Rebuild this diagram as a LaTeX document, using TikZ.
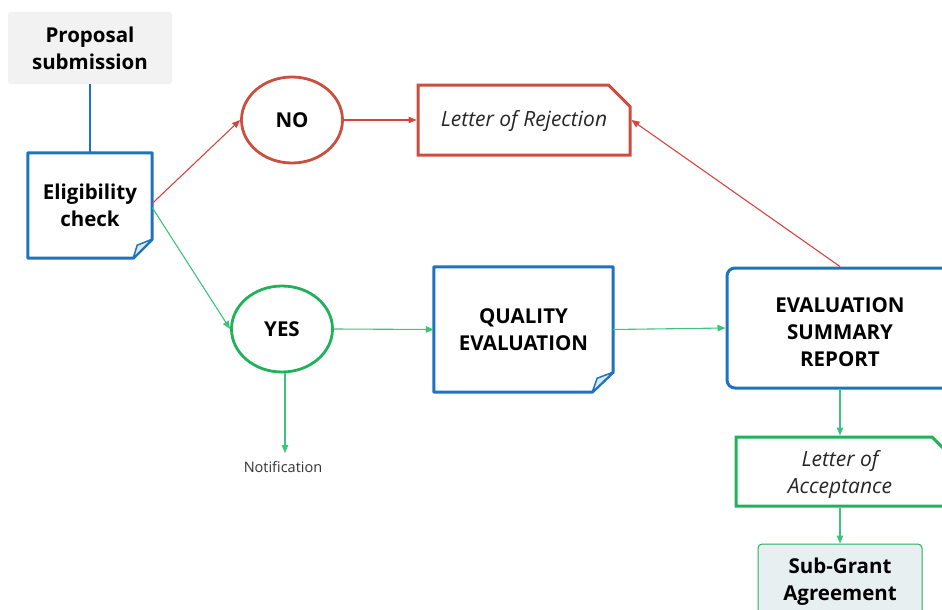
\documentclass[tikz,border=0pt]{standalone}
\usepackage{fontspec}
\setmainfont{Open Sans}
\usetikzlibrary{shapes.misc,shapes.geometric,arrows.meta,calc}
\definecolor{cblue}{HTML}{1E73BE}
\definecolor{cred}{HTML}{C9503E}
\definecolor{lred}{HTML}{D6453D}
\definecolor{cgreen}{HTML}{1FB25A}
\definecolor{lgreen}{HTML}{3CC47C}
\definecolor{cgray}{HTML}{F2F2F2}
\definecolor{sgafill}{HTML}{E8EFF1}
\definecolor{foldfill}{HTML}{DCE9F5}
\tikzset{
  big/.style={font=\fontsize{20.5}{27}\selectfont\bfseries, align=center, text=black},
  ital/.style={font=\fontsize{21}{27}\selectfont\itshape, align=center, text=black!85},
  graybox/.style={big, fill=cgray, rounded corners=3pt, inner sep=0pt},
  notebox/.style={big, inner sep=0pt},
  ovalred/.style={big, ellipse, draw=cred, line width=2.8pt, inner sep=0pt},
  ovalgreen/.style={big, ellipse, draw=cgreen, line width=2.8pt, inner sep=0pt},
  noteline/.style={draw=cblue, line width=3pt, line join=round},
  foldline/.style={draw=cblue, line width=1.5pt, fill=foldfill, line join=round},
  letterred/.style={ital, chamfered rectangle, chamfered rectangle corners=north east, chamfered rectangle xsep=11pt, chamfered rectangle ysep=11pt, draw=cred, line width=3pt, inner sep=0pt},
  lettergreen/.style={ital, chamfered rectangle, chamfered rectangle corners=north east, chamfered rectangle xsep=12pt, chamfered rectangle ysep=12pt, draw=cgreen, line width=3pt, inner sep=0pt},
  reportbox/.style={big, draw=cblue, line width=3pt, rounded corners=8pt, inner sep=0pt},
  sgabox/.style={big, draw=cgreen, line width=1pt, fill=sgafill, rounded corners=4pt, inner sep=0pt},
  small/.style={font=\fontsize{14.5}{16}\selectfont, text=black!80, inner sep=2pt},
  tipg/.style={-{Triangle[length=8pt,width=6.5pt]}},
  redarrow/.style={draw=lred, line width=1.1pt, tipg},
  greenarrow/.style={draw=lgreen, line width=1.1pt, tipg},
  blueline/.style={draw=cblue, line width=1.2pt}
}
\begin{document}
\begin{tikzpicture}[x=1pt,y=-1pt]
\useasboundingbox (0,0) rectangle (942,610);
\clip (0,0) rectangle (942,610);

% nodes
\node[graybox, minimum width=164pt, minimum height=72pt] (prop) at (90,48) {Proposal\\submission};
\node[notebox, minimum width=124pt, minimum height=105pt] (elig) at (90,205.5) {Eligibility\\check};
\node[ovalred, minimum width=101pt, minimum height=86pt] (no) at (292,120) {NO};
\node[letterred, minimum width=212pt, minimum height=70pt] (rej) at (524,120) {\raisebox{-1pt}[\height][\depth]{Letter of Rejection}};
\node[ovalgreen, minimum width=101pt, minimum height=86pt] (yes) at (282,329) {YES};
\node[notebox, minimum width=179pt, minimum height=125pt] (qe) at (523.5,329.5) {QUALITY\\EVALUATION};
\node[reportbox, minimum width=226pt, minimum height=120pt] (esr) at (840,328) {\raisebox{-6pt}[\height][\depth]{\begin{tabular}{@{}c@{}}EVALUATION\\SUMMARY\\REPORT\end{tabular}}};
\node[lettergreen, minimum width=208pt, minimum height=69pt] (loa) at (840,471.5) {\raisebox{-8pt}[0pt][0pt]{\begin{tabular}{@{}c@{}}Letter of\\Acceptance\end{tabular}}};
\node[sgabox, minimum width=164pt, minimum height=76pt] (sga) at (840,582) {Sub-Grant\\Agreement};
\node[small, anchor=north] (notif) at (283,459) {Notification};

% folded-note outlines
\draw[noteline] (elig.north west) -- (elig.north east) -- ($(elig.south east)+(0,-19)$) -- ($(elig.south east)+(-19,0)$) -- (elig.south west) -- cycle;
\draw[foldline] ($(elig.south east)+(0,-19)$) -- ($(elig.south east)+(-15,-13)$) -- ($(elig.south east)+(-19,0)$) -- cycle;
\draw[noteline] (qe.north west) -- (qe.north east) -- ($(qe.south east)+(0,-20)$) -- ($(qe.south east)+(-21,0)$) -- (qe.south west) -- cycle;
\draw[foldline] ($(qe.south east)+(0,-20)$) -- ($(qe.south east)+(-16,-14)$) -- ($(qe.south east)+(-21,0)$) -- cycle;

% connectors
\draw[blueline] (prop.south) -- (elig.north);
\draw[redarrow] ($(elig.east)+(0,-2)$) -- (no.west);
\draw[redarrow] (no.east) -- (rej.west);
\draw[redarrow] (esr.north) -- (rej.east);
\draw[greenarrow] ($(elig.east)+(0,2)$) -- (yes.west);
\draw[greenarrow] (yes.east) -- (qe.west);
\draw[greenarrow] (qe.east) -- (esr.west);
\draw[greenarrow] (esr.south) -- (loa.north);
\draw[greenarrow] (loa.south) -- (sga.north);
\draw[greenarrow] ($(yes.south)+(3,0)$) -- ($(notif.north)+(2,-6)$);
\end{tikzpicture}
\end{document}
